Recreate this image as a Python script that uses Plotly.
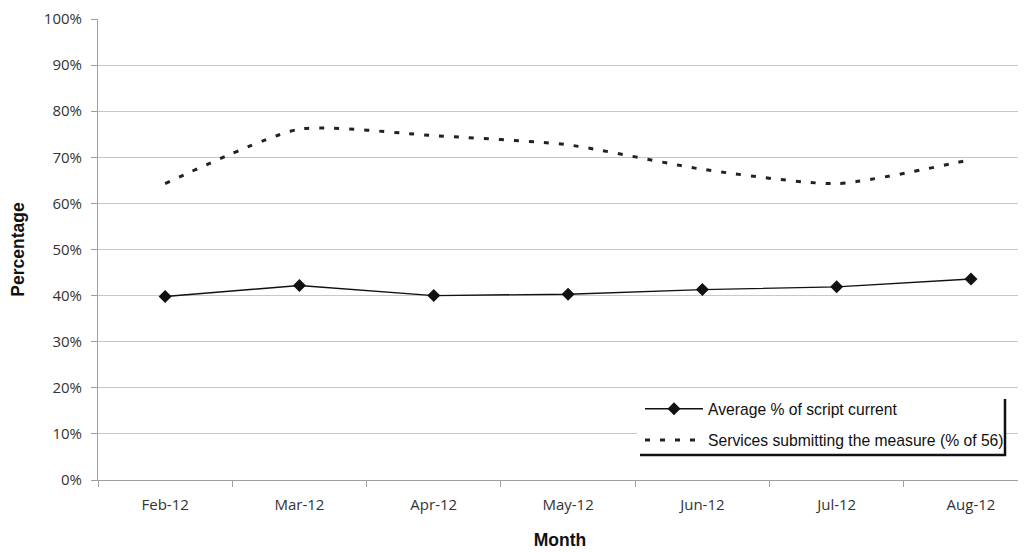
import plotly.graph_objects as go

months = ["Feb-12", "Mar-12", "Apr-12", "May-12", "Jun-12", "Jul-12", "Aug-12"]
avg_script_current = [39.8, 42.2, 40.0, 40.3, 41.3, 41.9, 43.6]
services_submitting = [64.3, 76.1, 74.7, 72.7, 67.4, 64.3, 69.5]
y_ticks = [0, 10, 20, 30, 40, 50, 60, 70, 80, 90, 100]
y_tick_labels = [f"{v}%" for v in y_ticks]

# page body has an 8px margin; figure sized so that the plot lands where the reference has it
OFF = 8
W, H = 1018, 544
L, R, T, B = 98 - OFF, 4, 19 - OFF, 72

fig = go.Figure()
fig.add_trace(go.Scatter(
    x=months, y=avg_script_current, name="Average % of script current",
    mode="lines+markers", legendgroup="a",
    line=dict(color="#111111", width=1.4),
    marker=dict(symbol="diamond", size=10, color="#111111"),
))
fig.add_trace(go.Scatter(
    x=months, y=services_submitting, name="Services submitting the measure (% of 56)",
    mode="lines", legendgroup="b",
    line=dict(color="#222222", width=3, dash="5px,10px", shape="spline", smoothing=0.6),
))

pw = W - L - R
ph = H - T - B
def px2x(p):  # screen pixel -> paper x
    return (p - OFF - L) / pw
def py2y(p):  # screen pixel -> paper y
    return (H - B - (p - OFF)) / ph

# legend white box + shadow lines
fig.add_shape(type="rect", xref="paper", yref="paper",
              x0=px2x(637), x1=px2x(1005), y0=py2y(397), y1=py2y(455),
              fillcolor="white", line=dict(width=0))
fig.add_shape(type="line", xref="paper", yref="paper",
              x0=px2x(1005), x1=px2x(1005), y0=py2y(399), y1=py2y(456),
              line=dict(color="#111111", width=2.5))
fig.add_shape(type="line", xref="paper", yref="paper",
              x0=px2x(640), x1=px2x(1006), y0=py2y(455), y1=py2y(455),
              line=dict(color="#111111", width=2.5))

tick_font = dict(family="Open Sans, sans-serif", size=15, color="#333333")
title_font = dict(family="Liberation Sans, Arial, sans-serif", size=17.5, color="#111111")

fig.update_layout(
    width=W, height=H,
    margin=dict(l=L, r=R, t=T, b=B),
    paper_bgcolor="white", plot_bgcolor="white",
    font=dict(family="Open Sans, sans-serif", color="#333333"),
    showlegend=True,
    legend=dict(
        x=px2x(640), y=py2y(392), xanchor="left", yanchor="top",
        bgcolor="rgba(0,0,0,0)", borderwidth=0,
        font=dict(family="Liberation Sans, Arial, sans-serif", size=15.7, color="#111111"),
        traceorder="grouped", tracegroupgap=8, itemwidth=58,
    ),
    xaxis=dict(
        range=[-0.5, 6.38], automargin=False,
        showgrid=False, showline=True, linecolor="#a0a0a0", linewidth=1,
        ticks="outside", tickson="boundaries", ticklen=6, tickcolor="#a0a0a0",
        tickfont=tick_font, ticklabelstandoff=11, ticklabeloverflow="allow",
        title=dict(text="<b>Month</b>", font=title_font, standoff=20),
    ),
    yaxis=dict(
        range=[0, 100], tickvals=y_ticks, ticktext=y_tick_labels, automargin=False,
        showgrid=True, gridcolor="#c8c8c8", gridwidth=1,
        showline=True, linecolor="#a0a0a0", linewidth=1,
        ticks="outside", ticklen=6, tickcolor="#a0a0a0",
        tickfont=tick_font, ticklabelstandoff=6, ticklabeloverflow="allow",
        zeroline=False,
        title=dict(text="<b>Percentage</b>", font=title_font, standoff=22),
    ),
)

fig.write_html("out.html")
